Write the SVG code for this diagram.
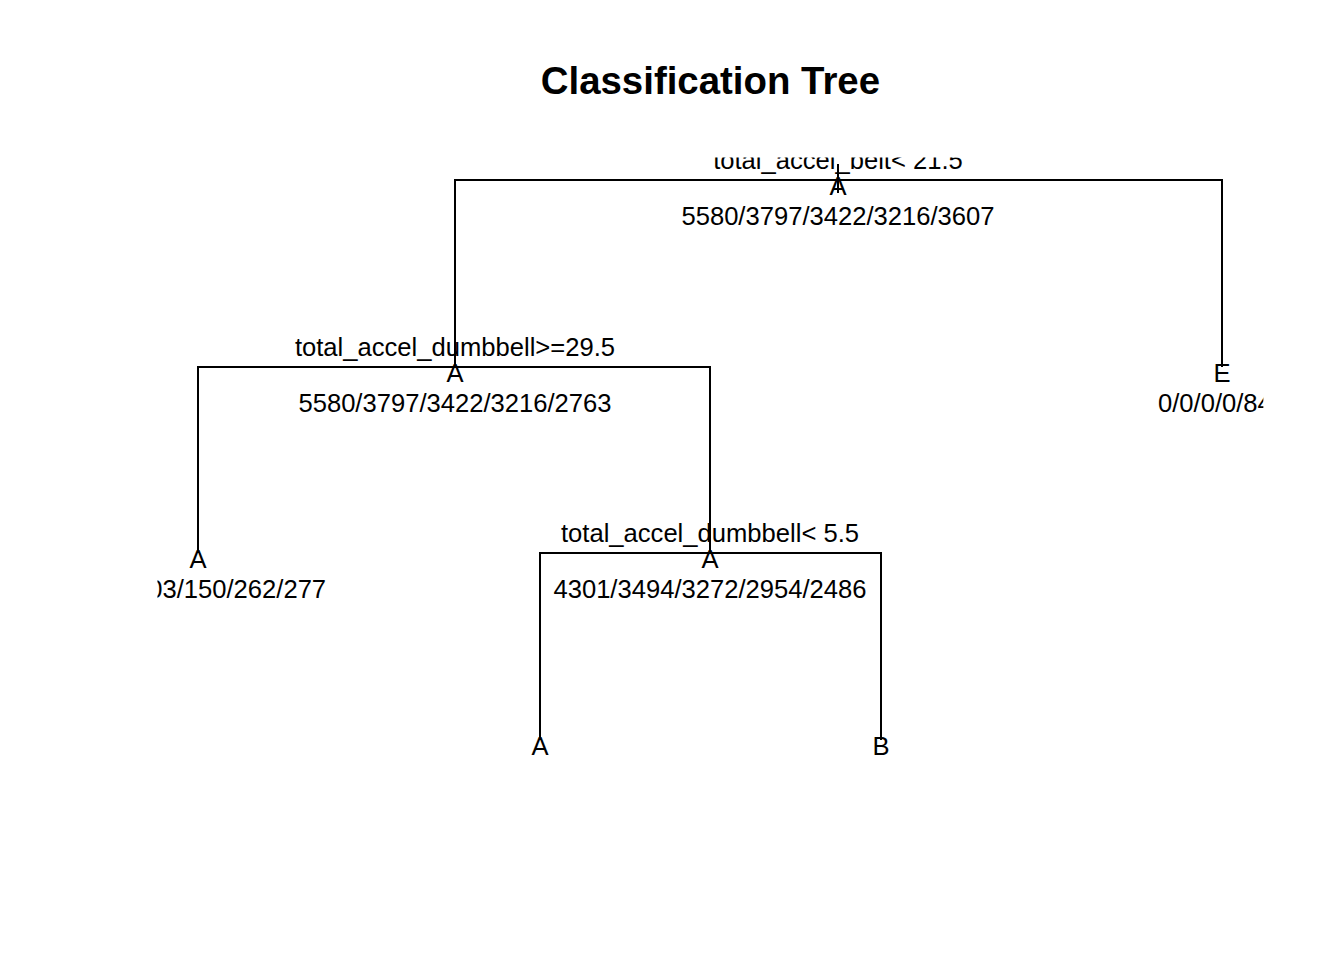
<svg xmlns="http://www.w3.org/2000/svg" width="1344" height="960" viewBox="0 0 1344 960">
<style>
text{font-family:"Liberation Sans",Arial,Helvetica,sans-serif;fill:#000;text-anchor:middle}
.t{font-size:38.4px;font-weight:bold}
.l{font-size:25.6px}
.c line{stroke:#000;stroke-width:2;stroke-linecap:butt}
</style>
<defs>
<clipPath id="plot"><rect x="157.44" y="157.44" width="1105.92" height="606.72"/></clipPath>
</defs>
<rect width="1344" height="960" fill="#fff"/>
<text class="t" x="710.4" y="93.7">Classification Tree</text>
<g clip-path="url(#plot)">
<g id="connectors" class="c">
<line x1="455" y1="180" x2="1222" y2="180"/>
<line x1="455" y1="179" x2="455" y2="367"/>
<line x1="1222" y1="179" x2="1222" y2="367"/>
<line x1="838" y1="164" x2="838" y2="193"/>
<line x1="198" y1="367" x2="710" y2="367"/>
<line x1="198" y1="366" x2="198" y2="553"/>
<line x1="710" y1="366" x2="710" y2="553"/>
<line x1="540" y1="553" x2="881" y2="553"/>
<line x1="540" y1="552" x2="540" y2="740"/>
<line x1="881" y1="552" x2="881" y2="740"/>
</g>
<g id="node1">
<text class="l" x="838" y="168.5">total_accel_belt&lt; 21.5</text>
<text class="l" x="838" y="195">A</text>
<text class="l" x="838" y="224.5">5580/3797/3422/3216/3607</text>
</g>
<g id="node2">
<text class="l" x="455" y="355.5">total_accel_dumbbell&gt;=29.5</text>
<text class="l" x="455" y="382">A</text>
<text class="l" x="455" y="411.5">5580/3797/3422/3216/2763</text>
</g>
<g id="node3">
<text class="l" x="1222" y="382">E</text>
<text class="l" x="1222" y="411.5">0/0/0/0/844</text>
</g>
<g id="node4">
<text class="l" x="198" y="568">A</text>
<text class="l" x="198" y="597.5">1279/303/150/262/277</text>
</g>
<g id="node5">
<text class="l" x="710" y="541.5">total_accel_dumbbell&lt; 5.5</text>
<text class="l" x="710" y="568">A</text>
<text class="l" x="710" y="597.5">4301/3494/3272/2954/2486</text>
</g>
<g id="node10">
<text class="l" x="540" y="755">A</text>
</g>
<g id="node11">
<text class="l" x="881" y="755">B</text>
</g>
</g>
</svg>
